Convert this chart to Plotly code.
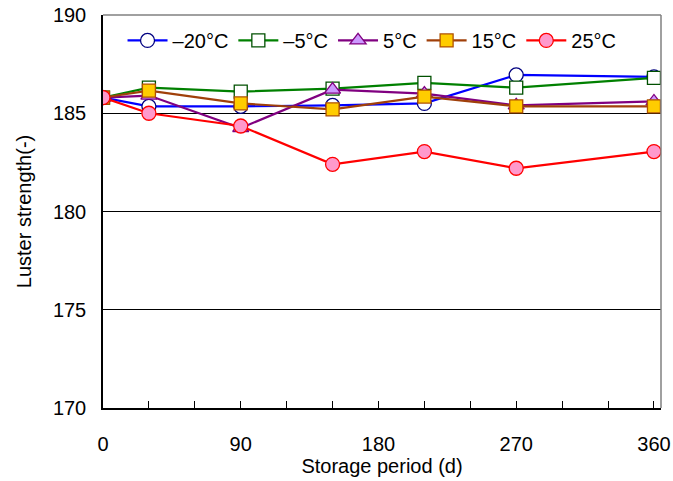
import plotly.graph_objects as go

days = [0, 30, 90, 150, 210, 270, 360]
names = ["\u201320\u00b0C", "\u20135\u00b0C", "5\u00b0C", "15\u00b0C", "25\u00b0C"]
v_m20 = [185.8, 185.35, 185.35, 185.4, 185.5, 186.95, 186.85]
v_m5 = [185.8, 186.3, 186.1, 186.25, 186.55, 186.3, 186.8]
v_5 = [185.8, 185.9, 184.25, 186.2, 186.0, 185.4, 185.6]
v_15 = [185.8, 186.15, 185.5, 185.2, 185.85, 185.35, 185.35]
v_25 = [185.8, 185.0, 184.35, 182.4, 183.05, 182.2, 183.05]
x_ticks = [0, 90, 180, 270, 360]
y_ticks = [170, 175, 180, 185, 190]

series = [v_m20, v_m5, v_5, v_15, v_25]
styles = [
    dict(line="#0000FF", fill="#FFFFFF", edge="#000080", symbol="circle"),
    dict(line="#008000", fill="#FFFFFF", edge="#005000", symbol="square"),
    dict(line="#800080", fill="#CC99FF", edge="#800080", symbol="triangle-up"),
    dict(line="#A0400A", fill="#FFCC00", edge="#B05000", symbol="square"),
    dict(line="#FF0000", fill="#FF99CC", edge="#FF0000", symbol="circle"),
]

fig = go.Figure()
for name, vals, st in zip(names, series, styles):
    fig.add_trace(go.Scatter(
        x=days, y=vals, name=name, mode="lines+markers",
        line=dict(color=st["line"], width=2.2),
        marker=dict(symbol=st["symbol"], size=14 if st["symbol"] != "square" else 13,
                    color=st["fill"], line=dict(color=st["edge"], width=1.3)),
    ))

font = dict(family="Arial, Liberation Sans, sans-serif", size=20, color="#000000")
fig.update_layout(
    width=673, height=481,
    margin=dict(l=103, r=12, t=15, b=73),
    paper_bgcolor="white", plot_bgcolor="white",
    font=font,
    showlegend=True,
    legend=dict(orientation="h", x=0.035, y=0.985, xanchor="left", yanchor="top",
                font=font, bgcolor="rgba(0,0,0,0)", itemwidth=40,
                tracegroupgap=0),
    xaxis=dict(range=[0, 364.6], tickvals=x_ticks, ticks="inside", ticklen=7,
               tickcolor="#000", showgrid=False, zeroline=False, automargin=False,
               showline=True, linecolor="#000", linewidth=1.5,
               minor=dict(dtick=30, ticks="inside", ticklen=7, tickcolor="#000", showgrid=False),
               ticklabelstandoff=17,
               title=dict(text="Storage period (d)", font=font, standoff=0)),
    yaxis=dict(range=[170, 190], tickvals=y_ticks, ticks="inside", ticklen=7,
               tickcolor="#000", showgrid=True, gridcolor="#000", gridwidth=1,
               zeroline=False, showline=True, linecolor="#000", linewidth=1.5,
               ticklabelstandoff=11, automargin=False,
               title=dict(text="Luster strength(-)", font=font, standoff=16)),
)
fig.add_shape(type="line", xref="paper", yref="paper", x0=0, x1=1, y0=1, y1=1,
              line=dict(color="#808080", width=1.5))
fig.add_shape(type="line", xref="paper", yref="paper", x0=1, x1=1, y0=0, y1=1,
              line=dict(color="#808080", width=1.5))
fig.write_html("out.html")
